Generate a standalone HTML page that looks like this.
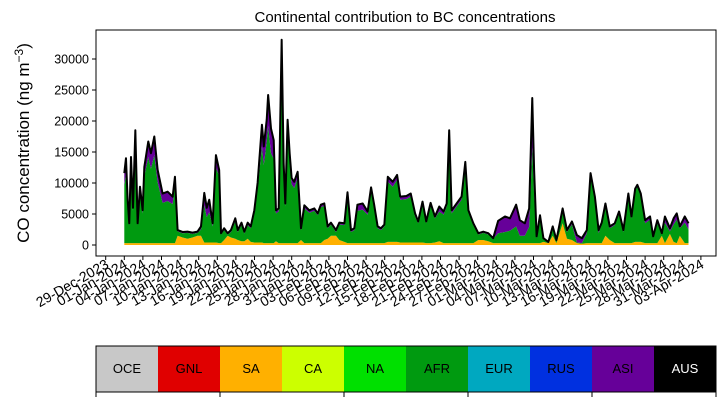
<!DOCTYPE html>
<html><head><meta charset="utf-8"><style>
body{margin:0;background:#fff;}
svg text{font-family:"Liberation Sans",sans-serif;}
</style></head><body>
<svg id="chart" width="725" height="402" xmlns="http://www.w3.org/2000/svg">
<text x="405" y="22" font-size="15" text-anchor="middle">Continental contribution to BC concentrations</text>
<text transform="translate(29,143) rotate(-90)" font-size="17" text-anchor="middle">CO concentration (ng m<tspan font-size="12" dy="-6">−3</tspan><tspan dy="6">)</tspan></text>
<g id="plot"></g>
<g id="xaxis"></g>
<g id="yaxis"></g>
<rect x="96" y="30" width="620" height="226" fill="none" stroke="#000" stroke-width="1"/>
<g id="cbar"></g>
</svg>
<script>
const days=[0,0.27,0.54,0.8,1.08,1.4,1.78,2.15,2.53,2.96,3.23,3.87,4.3,4.84,5.38,6.18,6.99,7.8,8.17,8.6,9.4,10.2,11.0,11.8,12.37,12.9,13.3,13.7,14.25,14.78,15.3,15.6,16.1,16.67,17.2,17.9,18.3,18.9,19.36,19.9,20.4,20.97,21.5,22.2,22.5,22.97,23.2,23.66,24.1,24.46,24.9,25.38,25.7,25.97,26.34,26.67,26.99,27.4,27.96,28.5,29.04,29.84,30.65,31.2,31.7,32.26,32.8,33.33,34.14,34.68,35.5,36.0,36.56,37.1,37.6,38.44,39.25,39.8,40.3,40.86,41.4,41.94,42.5,43.3,44.0,44.5,45.5,46.2,46.9,47.4,48.1,48.7,49.4,50.1,50.8,51.5,52.0,52.4,52.8,53.6,54.4,55.0,55.5,56.3,57.1,57.9,58.7,59.5,60.3,61.4,62.2,63.2,63.8,64.6,65.3,65.8,66.1,66.5,67.05,67.6,68.4,69.1,69.7,70.7,71.4,72.2,73.0,73.8,74.6,75.2,75.9,76.5,77.0,77.6,78.3,79.1,79.8,80.5,81.3,81.8,82.4,82.75,83.3,84.0,84.8,85.3,85.97,86.7,87.2,88.0,88.6,89.1,89.6,90.4,91.0];
const totalK=[11.6,14.0,7.3,3.5,14.2,6,18.5,3.5,9.4,5.6,12.6,16.7,14.8,17.5,12.1,8.3,8.6,7.8,11.0,2.4,2.1,2.15,2.0,2.15,3.0,8.4,6,7.3,3.5,14.5,12.1,1.9,2.7,1.9,2.4,4.3,2.4,3.6,2.15,3.6,3.0,5.6,10.0,19.4,15.9,20.2,24.2,18.8,16.9,5.6,5.9,33.1,13.2,6.7,20.2,14.8,10.8,10.2,11.8,2.7,6.4,5.6,5.9,5.1,6.5,6.7,3.0,3.6,2.4,3.6,3.5,8.5,2.4,2.7,6.5,6.7,5.4,9.3,6.5,3.0,2.7,3.3,11.0,10.2,11.3,7.8,7.9,8.3,5.1,3.8,7.0,3.8,6.8,4.6,6.2,5.4,6.7,18.5,5.6,6.7,7.8,13.4,5.6,3.5,1.9,2.15,1.9,1.1,3.9,4.6,4.3,6.5,4.0,3.5,5.9,23.7,12.1,1.4,4.8,1.1,0.5,3.0,0.8,5.9,2.4,3.8,1.6,1.1,2.4,11.6,7.8,2.4,3.6,6.7,3.0,3.5,5.4,2.4,8.3,4.6,9.1,9.7,8.3,4.0,4.6,1.4,4.0,1.9,4.6,2.7,4.3,5.1,3.0,4.6,3.5];
const saK=[.3,.3,.3,.3,.3,.3,.3,.3,.3,.3,.3,.3,.3,.3,.3,.3,.3,.3,.3,1.5,1.2,1.0,1.2,1.5,1.5,.4,.4,.4,.4,.4,.3,.3,.8,1.5,1.2,1.0,.8,.6,.6,1.0,.5,.4,.4,.4,.3,.3,.3,.3,.3,.6,.3,.3,.3,.3,.3,.3,.3,.3,.3,.8,.3,.3,.3,.3,.3,.8,1.0,1.5,1.5,.8,.5,.3,.3,.3,.3,.3,.3,.3,.3,.3,.3,.3,.5,.5,.5,.4,.4,.4,.4,.4,.4,.3,.3,.4,.6,.3,.3,.3,.3,.3,.3,.3,.3,.3,.8,.8,.6,.3,.3,.3,.3,.3,.3,.3,.3,.3,.3,.3,.3,.5,.3,1.5,.3,3.5,1.0,.8,.3,.2,.3,.3,.3,.3,.3,1.5,.8,.3,.3,.3,.3,.3,.5,.5,.5,.3,.3,.3,.3,1.5,.3,1.8,.5,.3,1.5,.3,.3];
const asiK=[2,2.5,1,.3,1.5,.5,2,.3,1,.5,1.5,2.5,2.5,3,2,1.5,1.5,1.2,1,.2,.2,.2,.2,.2,.5,2,1.5,2,.5,2,1,.2,.3,.2,.3,.5,.3,.4,.3,.4,.3,.5,1,3.5,3,3.5,5,4,3,.5,.5,2,1.5,.5,2,1.5,1,1,1,.3,.5,.4,.4,.3,.4,.4,.3,.3,.3,.3,.3,.5,.3,.3,1,1,.5,.5,.5,.3,.3,.3,.8,.8,.8,.5,.5,.5,.5,.3,.3,.3,.3,.3,.8,.5,.5,.5,.5,.5,.5,.5,.3,.3,.2,.2,.2,.1,2,2.5,2,3.5,2.5,2,3,8,4,.3,.5,.1,.1,.2,.1,.3,.3,.5,1.2,.8,.5,.5,.5,.5,.3,.3,.3,.3,.3,.3,.3,.3,.3,.3,.3,.5,.5,.2,.5,.2,1,.5,1,1,.3,1,1];
const yTicks=[0,5000,10000,15000,20000,25000,30000];
const regions=["OCE","GNL","SA","CA","NA","AFR","EUR","RUS","ASI","AUS"];
const regionColors=["#c8c8c8","#e00000","#ffb000","#ccff00","#00e000","#009a10","#00a8c0","#0030e0","#660099","#000000"];

const NS="http://www.w3.org/2000/svg";
const X=d=>124.3+d*6.2;
const Y=v=>245-v*0.0062;
function mk(tag,attrs,parent){const e=document.createElementNS(NS,tag);for(const k in attrs)e.setAttribute(k,attrs[k]);parent.appendChild(e);return e;}
const plot=document.getElementById('plot');
function area(lo,hi,color,name){
  let d="M"+days.map((t,i)=>X(t).toFixed(2)+","+Y(hi(i)).toFixed(2)).join("L");
  for(let i=days.length-1;i>=0;i--)d+="L"+X(days[i]).toFixed(2)+","+Y(lo(i)).toFixed(2);
  const p=mk('path',{d:d+"Z",fill:color,stroke:"none"},plot);
  
  
}
area(i=>0,i=>saK[i]*1000,"#ffb000","sa-area");
area(i=>saK[i]*1000,i=>(totalK[i]-asiK[i])*1000,"#009a10","afr-area");
area(i=>(totalK[i]-asiK[i])*1000,i=>totalK[i]*1000,"#660099","asi-area");
const line=mk('path',{d:"M"+days.map((t,i)=>X(t).toFixed(2)+","+Y(totalK[i]*1000).toFixed(2)).join("L"),fill:"none",stroke:"#000","stroke-width":2,"stroke-linejoin":"round"},plot);



const ya=document.getElementById('yaxis');
yTicks.forEach(v=>{
  const y=Y(v);
  mk('line',{x1:92,x2:96,y1:y,y2:y,stroke:"#000"},ya);
  const t=mk('text',{x:89,y:y+4.5,"font-size":12.5,"text-anchor":"end"},ya);
  t.textContent=v;
  
  
});
const xa=document.getElementById('xaxis');
const months=["Jan","Feb","Mar","Apr","May","Jun","Jul","Aug","Sep","Oct","Nov","Dec"];
for(let k=0;k<=32;k++){
  const dd=new Date(Date.UTC(2023,11,29+3*k));
  const x=X(-3+3*k);
  mk('line',{x1:x,x2:x,y1:256,y2:260,stroke:"#000"},xa);
  const lab=String(dd.getUTCDate()).padStart(2,"0")+"-"+months[dd.getUTCMonth()]+"-"+dd.getUTCFullYear();
  const t=mk('text',{x:x+4,y:267,"font-size":14,"text-anchor":"end",transform:`rotate(-30 ${x+4} 267)`},xa);
  t.textContent=lab;
  
  
}
const cb=document.getElementById('cbar');
regions.forEach((r,i)=>{
  const x=96+i*62;
  const rc=mk('rect',{x:x,y:346,width:62,height:46,fill:regionColors[i]},cb);
  
  
  const t=mk('text',{x:x+31,y:373,"font-size":13,"text-anchor":"middle",fill:r==="AUS"?"#fff":"#000"},cb);
  t.textContent=r;
  
  
});
mk('rect',{x:96,y:346,width:620,height:46,fill:"none",stroke:"#000"},cb);
[96,220,344,468,592,716].forEach(x=>mk('line',{x1:x,x2:x,y1:392,y2:397,stroke:"#000"},cb));
</script>
</body></html>
